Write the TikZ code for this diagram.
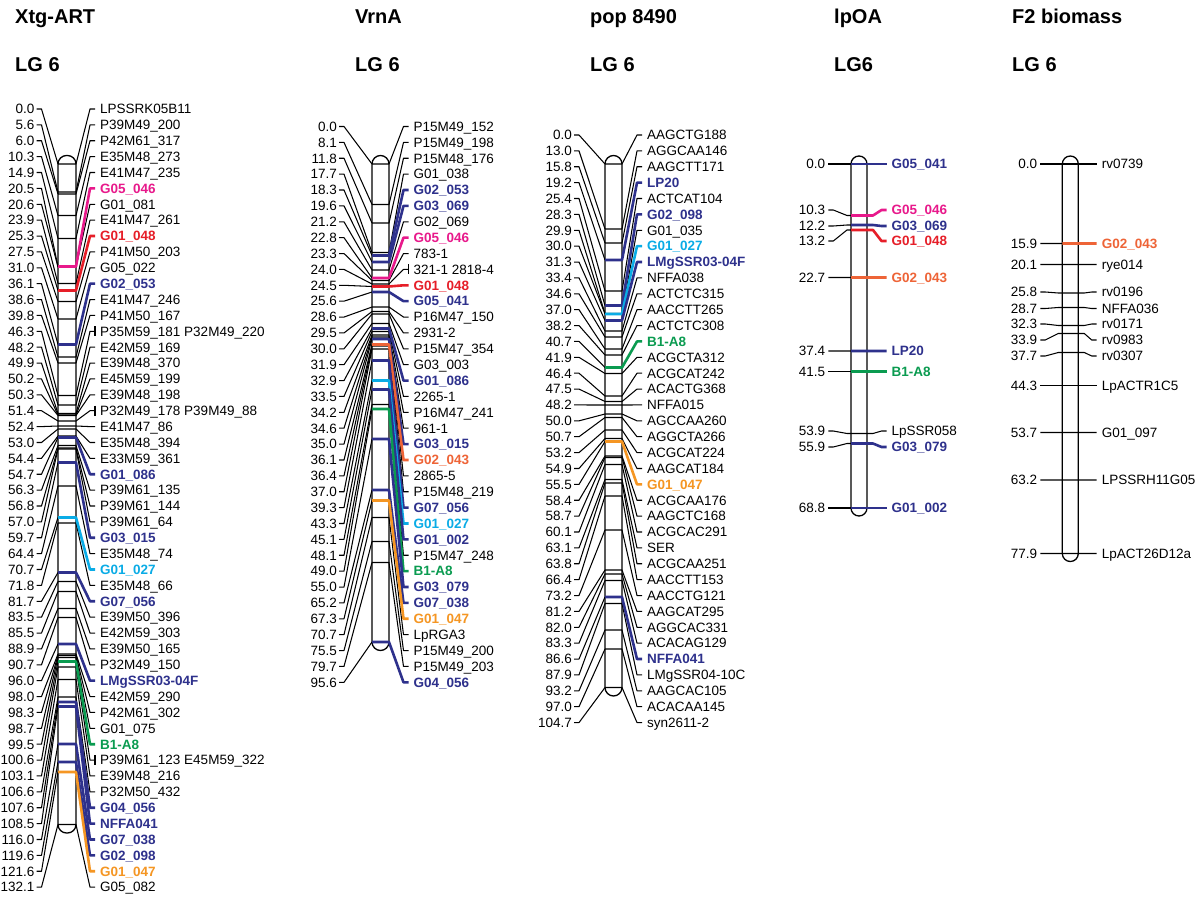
\documentclass[tikz,border=0pt]{standalone}
\usepackage{fontspec}
\setmainfont{Liberation Sans}
\definecolor{mblue}{RGB}{46,49,140}
\definecolor{mpink}{RGB}{232,25,139}
\definecolor{mred}{RGB}{230,30,40}
\definecolor{mcyan}{RGB}{10,172,230}
\definecolor{mgreen}{RGB}{10,155,80}
\definecolor{morange}{RGB}{245,150,35}
\definecolor{mored}{RGB}{238,100,55}
\pgfdeclarelayer{front}
\pgfsetlayers{main,front}
\def\kk{k}\def\kkb{kb}
\tikzset{
 num/.style={inner sep=0pt, font=\fontsize{13.5}{16}\selectfont},
 lab/.style={inner sep=0pt, anchor=base west, font=\fontsize{13.5}{16}\selectfont},
 blab/.style={inner sep=0pt, anchor=base west, font=\fontsize{13.5}{16}\selectfont\bfseries},
 conn/.style={line width=1.05pt, line join=round},
 cconn/.style={line width=2.6pt, line join=round},
 chrom/.style={line width=1.3pt},
 title/.style={inner sep=0pt, anchor=base west, font=\fontsize{20}{24}\selectfont\bfseries}
}
\newcommand\maincol[2]{%
 \draw[chrom, rounded corners=8.5pt] (\barL,155.5) rectangle (\barR,\chromEnd);
 \foreach \cm/\lbl/\col [count=\i from 0] in {#2}{%
  \pgfmathsetmacro\ry{\rowA+\rowS*\i}%
  \pgfmathsetmacro\my{164+5*\cm}%
  \node[num, anchor=base east] (#1n\i) at (\numEnd,\ry+4.8) {\cm};
  \draw[conn] (\numEnd+2,\ry) -- (\numEnd+7,\ry) -- (\barL,\my);
  \ifx\col\kk
    \node[lab] (#1l\i) at (\labX,\ry+4.8) {\lbl};
    \draw[conn] (\barL,\my) -- (\barR,\my) -- (\labX-10,\ry) -- (\labX-5,\ry);
  \else\ifx\col\kkb
    \node[lab] (#1l\i) at (\labX,\ry+4.8) {\lbl};
    \draw[conn] (\barL,\my) -- (\barR,\my) -- (\labX-10,\ry) -- (\labX-5,\ry);
    \draw[conn] (\labX-5,\ry-5) -- (\labX-5,\ry+5);
  \else
    \node[blab, text=\col] (#1l\i) at (\labX,\ry+4.8) {\lbl};
    \begin{pgfonlayer}{front}
    \draw[cconn, draw=\col] (\barL,\my) -- (\barR,\my) -- (\labX-10,\ry) -- (\labX-5,\ry);
    \end{pgfonlayer}
  \fi\fi
 }}
\newcommand\sidecol[2]{%
 \draw[chrom, rounded corners=8pt] (\barL,156) rectangle (\barR,\chromEnd);
 \foreach \cm/\ly/\lbl/\col [count=\i from 0] in {#2}{%
  \pgfmathsetmacro\my{164+5*\cm}%
  \node[num, anchor=base east] (#1n\i) at (\numEnd,\ly+4.8) {\cm};
  \draw[conn] (\numEnd+3,\ly) -- (\numEnd+8,\ly) -- (\barL-4,\my) -- (\barL,\my);
  \ifx\col\kk
    \node[lab] (#1l\i) at (\labX,\ly+4.8) {\lbl};
    \draw[conn] (\barL,\my) -- (\barR+6,\my) -- (\labX-10,\ly) -- (\labX-5,\ly);
  \else
    \node[blab, text=\col] (#1l\i) at (\labX,\ly+4.8) {\lbl};
    \begin{pgfonlayer}{front}
    \draw[cconn, draw=\col] (\barL,\my) -- (\barR+6,\my) -- (\labX-10,\ly) -- (\labX-5,\ly);
    \end{pgfonlayer}
  \fi
 }}
\begin{document}
\begin{tikzpicture}[x=1pt,y=-1pt]
\useasboundingbox (0,0) rectangle (1200,899);
\fill[white] (0,0) rectangle (1200,899);
% titles
\node[title] (t1) at (15,24) {Xtg-ART};
\node[title] (g1) at (15,72) {LG 6};
\node[title] (t2) at (355,24) {VrnA};
\node[title] (g2) at (355,72) {LG 6};
\node[title] (t3) at (590,24) {pop 8490};
\node[title] (g3) at (590,72) {LG 6};
\node[title] (t4) at (834,24) {lpOA};
\node[title] (g4) at (834,72) {LG6};
\node[title] (t5) at (1012,24) {F2 biomass};
\node[title] (g5) at (1012,72) {LG 6};
% Xtg-ART
\def\numEnd{34.5}\def\barL{58}\def\barR{76}\def\labX{100}\def\rowA{109}\def\rowS{15.88}
\pgfmathsetmacro\chromEnd{164+5*132.1+8.5}
\maincol{x}{0.0/LPSSRK05B11/k,
5.6/P39M49\_200/k,
6.0/P42M61\_317/k,
10.3/E35M48\_273/k,
14.9/E41M47\_235/k,
20.5/G05\_046/mpink,
20.6/G01\_081/k,
23.9/E41M47\_261/k,
25.3/G01\_048/mred,
27.5/P41M50\_203/k,
31.0/G05\_022/k,
36.1/G02\_053/mblue,
38.6/E41M47\_246/k,
39.8/P41M50\_167/k,
46.3/P35M59\_181 P32M49\_220/kb,
48.2/E42M59\_169/k,
49.9/E39M48\_370/k,
50.2/E45M59\_199/k,
50.3/E39M48\_198/k,
51.4/P32M49\_178 P39M49\_88/kb,
52.4/E41M47\_86/k,
53.0/E35M48\_394/k,
54.4/E33M59\_361/k,
54.7/G01\_086/mblue,
56.3/P39M61\_135/k,
56.8/P39M61\_144/k,
57.0/P39M61\_64/k,
59.7/G03\_015/mblue,
64.4/E35M48\_74/k,
70.7/G01\_027/mcyan,
71.8/E35M48\_66/k,
81.7/G07\_056/mblue,
83.5/E39M50\_396/k,
85.5/E42M59\_303/k,
88.9/E39M50\_165/k,
90.7/P32M49\_150/k,
96.0/LMgSSR03-04F/mblue,
98.0/E42M59\_290/k,
98.3/P42M61\_302/k,
98.7/G01\_075/k,
99.5/B1-A8/mgreen,
100.6/P39M61\_123 E45M59\_322/kb,
103.1/E39M48\_216/k,
106.6/P32M50\_432/k,
107.6/G04\_056/mblue,
108.5/NFFA041/mblue,
116.0/G07\_038/mblue,
119.6/G02\_098/mblue,
121.6/G01\_047/morange,
132.1/G05\_082/k}
% VrnA
\def\numEnd{337}\def\barL{372}\def\barR{389}\def\labX{413.5}\def\rowA{126.5}\def\rowS{15.88}
\pgfmathsetmacro\chromEnd{164+5*95.6+8.5}
\maincol{v}{0.0/P15M49\_152/k,
8.1/P15M49\_198/k,
11.8/P15M48\_176/k,
17.7/G01\_038/k,
18.3/G02\_053/mblue,
19.6/G03\_069/mblue,
21.2/G02\_069/k,
22.8/G05\_046/mpink,
23.3/783-1/k,
24.0/321-1 2818-4/kb,
24.5/G01\_048/mred,
25.6/G05\_041/mblue,
28.6/P16M47\_150/k,
29.5/2931-2/k,
30.0/P15M47\_354/k,
31.9/G03\_003/k,
32.9/G01\_086/mblue,
33.5/2265-1/k,
34.2/P16M47\_241/k,
34.6/961-1/k,
35.0/G03\_015/mblue,
36.1/G02\_043/mored,
36.4/2865-5/k,
37.0/P15M48\_219/k,
39.3/G07\_056/mblue,
43.3/G01\_027/mcyan,
45.1/G01\_002/mblue,
48.1/P15M47\_248/k,
49.0/B1-A8/mgreen,
55.0/G03\_079/mblue,
65.2/G07\_038/mblue,
67.3/G01\_047/morange,
70.7/LpRGA3/k,
75.5/P15M49\_200/k,
79.7/P15M49\_203/k,
95.6/G04\_056/mblue}
% pop 8490
\def\numEnd{572}\def\barL{605}\def\barR{622}\def\labX{647}\def\rowA{135}\def\rowS{15.88}
\pgfmathsetmacro\chromEnd{164+5*104.7+8.5}
\maincol{p}{0.0/AAGCTG188/k,
13.0/AGGCAA146/k,
15.8/AAGCTT171/k,
19.2/LP20/mblue,
25.4/ACTCAT104/k,
28.3/G02\_098/mblue,
29.9/G01\_035/k,
30.0/G01\_027/mcyan,
31.3/LMgSSR03-04F/mblue,
33.4/NFFA038/k,
34.6/ACTCTC315/k,
37.0/AACCTT265/k,
38.2/ACTCTC308/k,
40.7/B1-A8/mgreen,
41.9/ACGCTA312/k,
46.4/ACGCAT242/k,
47.5/ACACTG368/k,
48.2/NFFA015/k,
50.0/AGCCAA260/k,
50.7/AGGCTA266/k,
53.2/ACGCAT224/k,
54.9/AAGCAT184/k,
55.5/G01\_047/morange,
58.4/ACGCAA176/k,
58.7/AAGCTC168/k,
60.1/ACGCAC291/k,
63.1/SER/k,
63.8/ACGCAA251/k,
66.4/AACCTT153/k,
73.2/AACCTG121/k,
81.2/AAGCAT295/k,
82.0/AGGCAC331/k,
83.3/ACACAG129/k,
86.6/NFFA041/mblue,
87.9/LMgSSR04-10C/k,
93.2/AAGCAC105/k,
97.0/ACACAA145/k,
104.7/syn2611-2/k}
% lpOA
\def\numEnd{825.3}\def\barL{851}\def\barR{867}\def\labX{891.5}
\pgfmathsetmacro\chromEnd{164+5*68.8+8}
\sidecol{o}{0.0/164/G05\_041/mblue,
10.3/210/G05\_046/mpink,
12.2/226/G03\_069/mblue,
13.2/241/G01\_048/mred,
22.7/277.5/G02\_043/mored,
37.4/351/LP20/mblue,
41.5/371.5/B1-A8/mgreen,
53.9/431/LpSSR058/k,
55.9/447/G03\_079/mblue,
68.8/508/G01\_002/mblue}
% F2 biomass
\def\numEnd{1037.3}\def\barL{1062.3}\def\barR{1078.3}\def\labX{1101.7}
\pgfmathsetmacro\chromEnd{164+5*77.9+8}
\sidecol{f}{0.0/164/rv0739/k,
15.9/243.5/G02\_043/mored,
20.1/264.5/rye014/k,
25.8/292/rv0196/k,
28.7/308.5/NFFA036/k,
32.3/324/rv0171/k,
33.9/340/rv0983/k,
37.7/356/rv0307/k,
44.3/385.5/LpACTR1C5/k,
53.7/432.5/G01\_097/k,
63.2/480/LPSSRH11G05/k,
77.9/553.5/LpACT26D12a/k}
\end{tikzpicture}
\end{document}
